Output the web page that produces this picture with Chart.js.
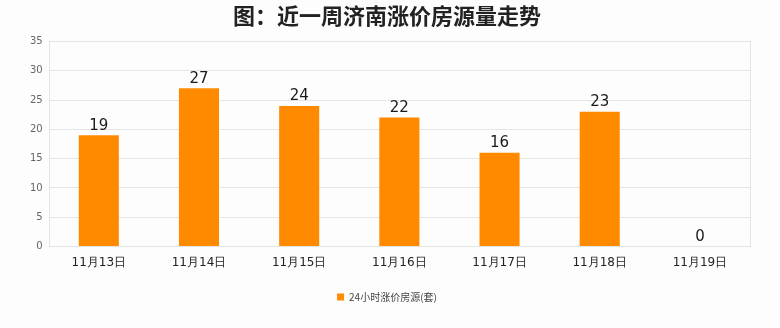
<!DOCTYPE html>
<html>
<head>
<meta charset="utf-8">
<script src="https://cdn.jsdelivr.net/npm/chart.js@4"></script>
<style>
  html, body { margin: 0; padding: 0; background: #fdfdfd; }
  #wrap { width: 780px; height: 328px; }
</style>
</head>
<body>
<div id="wrap"><canvas id="chart" width="780" height="328"></canvas></div>
<script>
const categories = ['11月13日', '11月14日', '11月15日', '11月16日', '11月17日', '11月18日', '11月19日'];
const riseCounts = [19, 27, 24, 22, 16, 23, 0];
const seriesName = '24小时涨价房源(套)';
const chartTitle = '图：近一周济南涨价房源量走势';

// value labels above bars
const barLabels = {
  id: 'barLabels',
  afterDatasetsDraw(chart) {
    const ctx = chart.ctx;
    const meta = chart.getDatasetMeta(0);
    ctx.save();
    ctx.font = '15px "DejaVu Sans", sans-serif';
    ctx.fillStyle = '#1a1a1a';
    ctx.textAlign = 'center';
    ctx.textBaseline = 'bottom';
    meta.data.forEach((bar, i) => {
      ctx.fillText(String(riseCounts[i]), bar.x, bar.y - 2);
    });
    ctx.restore();
  }
};

// frame round the plot area
const plotFrame = {
  id: 'plotFrame',
  beforeDatasetsDraw(chart) {
    const a = chart.chartArea;
    const ctx = chart.ctx;
    ctx.save();
    ctx.strokeStyle = '#e3e3e3';
    ctx.lineWidth = 1;
    ctx.strokeRect(Math.round(a.left) + 0.5, Math.round(a.top) + 0.5, Math.round(a.right - a.left), Math.round(a.bottom - a.top));
    ctx.restore();
  }
};

new Chart(document.getElementById('chart').getContext('2d'), {
  type: 'bar',
  data: {
    labels: categories,
    datasets: [{
      label: seriesName,
      data: riseCounts,
      backgroundColor: '#ff8a00',
      borderColor: '#ff8a00',
      borderWidth: 0,
      categoryPercentage: 1,
      barPercentage: 0.4
    }]
  },
  options: {
    responsive: false,
    animation: false,
    layout: { padding: { left: 24, right: 30, top: 2, bottom: 16 } },
    scales: {
      x: {
        grid: { display: false, drawTicks: false },
        border: { display: false },
        ticks: { color: '#222', font: { size: 12, family: '"DejaVu Sans", sans-serif' }, padding: 9 }
      },
      y: {
        min: 0, max: 35,
        ticks: { stepSize: 5, color: '#666', font: { size: 10, family: '"DejaVu Sans", sans-serif' }, padding: 6 },
        grid: { color: '#e6e6e6', drawTicks: false },
        border: { display: false }
      }
    },
    plugins: {
      title: {
        display: true,
        text: chartTitle,
        color: '#222',
        font: { size: 22, weight: 'bold', family: '"Noto Sans CJK SC", sans-serif' },
        padding: { top: 0, bottom: 13 }
      },
      legend: {
        position: 'bottom',
        labels: {
          color: '#444',
          font: { size: 10, family: '"Noto Sans CJK SC", sans-serif' },
          boxWidth: 7, boxHeight: 7,
          padding: 13
        }
      },
      tooltip: { enabled: false }
    }
  },
  plugins: [plotFrame, barLabels]
});
</script>
</body>
</html>
